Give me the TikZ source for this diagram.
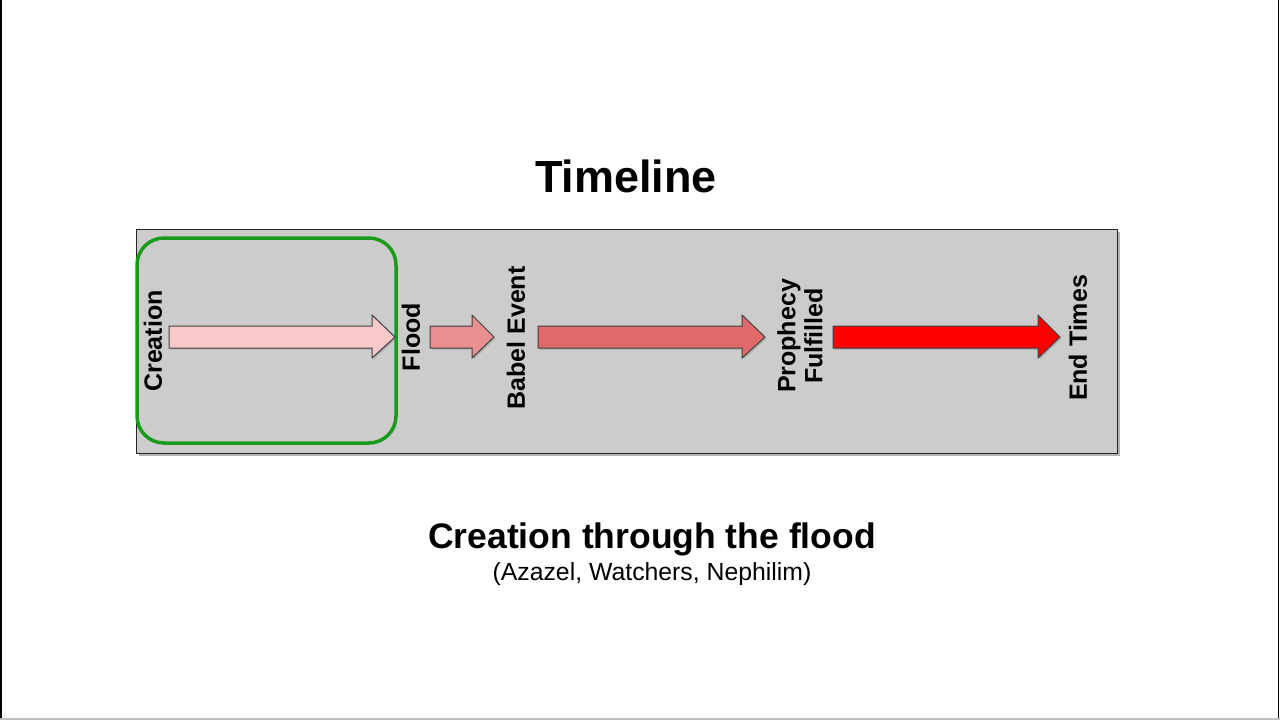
\documentclass[tikz,border=0pt]{standalone}
\usepackage{fontspec}
\setmainfont{Liberation Sans}
\usetikzlibrary{shadows}
\begin{document}
\begin{tikzpicture}[x=1pt,y=-1pt,
  lbl/.style={font=\bfseries\fontsize{25}{27}\selectfont, rotate=90, inner sep=0pt, align=center},
  blk/.style={draw=black!75, line width=1pt, drop shadow={shadow xshift=1.5pt, shadow yshift=-1.5pt, opacity=0.4}},
]
\useasboundingbox (0,0) rectangle (1280,720);
\fill[white] (0,0) rectangle (1280,720);
% frame edges
\draw[black, line width=1.5pt] (1,0) -- (1,720);
\draw[black, line width=1.5pt] (1278.5,0) -- (1278.5,720);
\draw[black!25, line width=2pt] (0,718.5) -- (1280,718.5);

% title
\node[font=\bfseries\fontsize{45}{50}\selectfont, inner sep=0pt] (title) at (626,176) {Timeline};

% gray panel
\path[fill=black!50, opacity=0.6] (139,232) rectangle (1120,456);
\node[draw=black!85, fill=black!20, line width=1.2pt, minimum width=981pt, minimum height=224pt, inner sep=0pt, anchor=north west] (panel) at (136,229) {};

% green highlight
\draw[draw={rgb,255:red,26;green,154;blue,26}, line width=3.5pt, rounded corners=27pt] (137,238) rectangle (396,443);

% block arrows
\definecolor{a1}{RGB}{249,200,200}
\definecolor{a2}{RGB}{232,144,144}
\definecolor{a3}{RGB}{224,106,106}
\definecolor{a4}{RGB}{255,0,0}
\path[blk, fill=a1] (169,326) -- (372,326) -- (372,315) -- (395,337) -- (372,358) -- (372,348) -- (169,348) -- cycle;
\path[blk, fill=a2] (430,326) -- (472,326) -- (472,315) -- (494,337) -- (472,358) -- (472,348) -- (430,348) -- cycle;
\path[blk, fill=a3] (538,326) -- (742,326) -- (742,315) -- (765,337) -- (742,358) -- (742,348) -- (538,348) -- cycle;
\path[blk, fill=a4] (833,326) -- (1038,326) -- (1038,315) -- (1060,337) -- (1038,358) -- (1038,348) -- (833,348) -- cycle;

% labels
\node[lbl] (creation) at (153,341) {Creation};
\node[lbl] (flood) at (411,337) {Flood};
\node[lbl] (babel) at (516,338) {Babel Event};
\node[lbl] (prophecy) at (800,336) {Prophecy\\Fulfilled};
\node[lbl] (end) at (1078,338) {End Times};

% caption
\node[font=\bfseries\fontsize{35.5}{40}\selectfont, inner sep=0pt] (cap) at (652,539) {Creation through the flood};
\node[font=\fontsize{24.8}{28}\selectfont, inner sep=0pt] (sub) at (652,574) {(Azazel, Watchers, Nephilim)};
\end{tikzpicture}
\end{document}
